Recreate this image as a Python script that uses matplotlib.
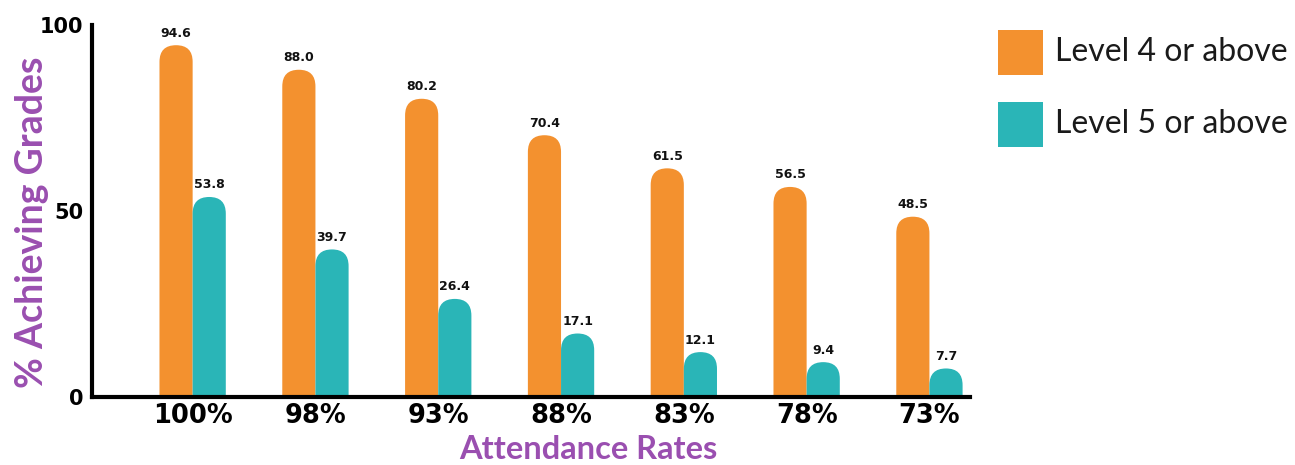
import matplotlib.pyplot as plt
from matplotlib.patches import FancyBboxPatch, Rectangle
import numpy as np

attendance = ['100%', '98%', '93%', '88%', '83%', '78%', '73%']
level4 = [94.6, 88.0, 80.2, 70.4, 61.5, 56.5, 48.5]
level5 = [53.8, 39.7, 26.4, 17.1, 12.1, 9.4, 7.7]
series_names = ['Level 4 or above', 'Level 5 or above']

orange = '#F3912F'
teal = '#2AB5B7'
purple = '#9A4FB0'

W, H = 1295, 465
fig = plt.figure(figsize=(W / 100, H / 100), dpi=100)
ax = fig.add_axes([0.071, 0.146, 0.678, 0.80])

x = np.arange(len(attendance))
w = 0.27
ax.set_xlim(-0.82, 6.33)
ax.set_ylim(0, 100)

# aspect between y data units and x data units (per pixel)
bbox = ax.get_position()
px_x = (6.33 + 0.82) / (bbox.width * W)
px_y = 100 / (bbox.height * H)
aspect = px_y / px_x


def rounded_bars(xs, vals, color):
    for xi, v in zip(xs, vals):
        r = w / 2
        p = FancyBboxPatch((xi - w / 2, -10), w, v + 10,
                           boxstyle=f"round,pad=0,rounding_size={r}",
                           mutation_aspect=aspect, facecolor=color,
                           edgecolor='none')
        ax.add_patch(p)
        ax.text(xi, v + 1.5, f'{v:.1f}', ha='center', va='bottom',
                fontsize=9, fontweight='bold', color='#111111')


rounded_bars(x - w / 2, level4, orange)
rounded_bars(x + w / 2, level5, teal)

for s in ['top', 'right']:
    ax.spines[s].set_visible(False)
for s in ['left', 'bottom']:
    ax.spines[s].set_linewidth(3)
    ax.spines[s].set_color('black')

ax.set_yticks([0, 50, 100])
ax.set_yticklabels(['0', '50', '100'], fontsize=15, fontweight='bold')
ax.set_xticks(x)
ax.set_xticklabels(attendance, fontsize=18.5, fontweight='bold')
ax.tick_params(length=0, pad=6)
ax.tick_params(axis='x', pad=4)

# axis titles placed in figure pixels
fig.text(43 / W, 1 - 222 / H, '% Achieving Grades', rotation=90,
         rotation_mode='anchor', ha='center', va='baseline',
         fontsize=27, fontweight='bold', color=purple, family='Lato')
fig.text(588 / W, 6 / H, 'Attendance Rates', ha='center', va='baseline',
         fontsize=23.5, fontweight='bold', color=purple, family='Lato')

# legend
for i, (name, c) in enumerate(zip(series_names, [orange, teal])):
    top = 30 + i * 72
    fig.add_artist(Rectangle((998 / W, 1 - (top + 45) / H), 45 / W, 45 / H,
                             transform=fig.transFigure, facecolor=c,
                             edgecolor='none'))
    fig.text(1055 / W, 1 - (top + 22) / H, name, ha='left', va='center',
             fontsize=23, family='Lato', color='#1a1a1a')

fig.savefig('out.png', dpi=100)
